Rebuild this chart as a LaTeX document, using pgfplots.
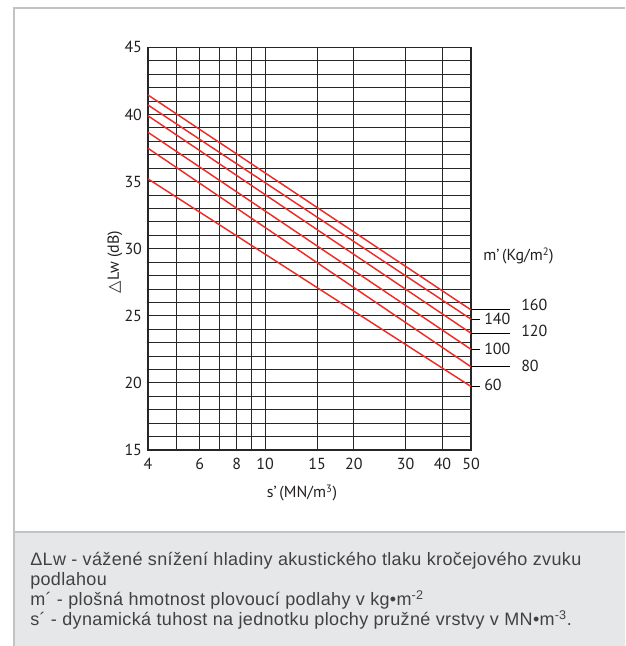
\documentclass[border=0pt]{standalone}
\usepackage{fontspec}
\setmainfont{PT Sans}
\newfontfamily\capfont[LetterSpace=2]{Liberation Sans}
\newfontfamily\symfont{DejaVu Sans}
\usepackage{pgfplots}
\pgfplotsset{compat=1.18}
\definecolor{redline}{RGB}{236,45,40}
\definecolor{txt}{RGB}{35,31,32}
\definecolor{captxt}{RGB}{65,65,65}
\definecolor{capgray}{RGB}{230,231,232}
\definecolor{framec}{RGB}{195,195,195}
\begin{document}
\begin{tikzpicture}[x=0.75pt,y=0.75pt]
\path[use as bounding box] (0,0) rectangle (625,646);
\fill[capgray] (14,0) rectangle (625,114);
\draw[framec, line width=1.1pt] (14,0) -- (14,638) -- (625,638);
\draw[framec, line width=0.9pt] (14,114) -- (625,114);
\begin{axis}[at={(111pt,147pt)}, anchor=south west,
  width=242.25pt, height=302pt, scale only axis,
  xmode=log, xmin=4, xmax=50, ymin=15, ymax=45,
  xtick={4,5,6,7,8,9,10,15,20,30,40,50},
  xticklabels={4,,6,,8,,10,15,20,30,40,50},
  ytick={15,...,45},
  yticklabels={15,,,,,20,,,,,25,,,,,30,,,,,35,,,,,40,,,,,45},
  grid=major, major grid style={black!85, line width=0.6pt},
  axis line style={black!85, line width=0.8pt},
  tick style={draw=none},
  ticklabel style={font=\fontsize{12}{14}\selectfont, text=txt},
  yticklabel style={xshift=-1pt},
  xticklabel style={yshift=-2.5pt},
  clip=false,
]
\addplot[redline, line width=1.1pt] coordinates {(4,41.45) (50,25.44)};
\addplot[redline, line width=1.1pt] coordinates {(4,40.7) (50,24.75)};
\addplot[redline, line width=1.1pt] coordinates {(4,39.9) (50,23.7)};
\addplot[redline, line width=1.1pt] coordinates {(4,38.67) (50,22.5)};
\addplot[redline, line width=1.1pt] coordinates {(4,37.48) (50,21.2)};
\addplot[redline, line width=1.1pt] coordinates {(4,35.2) (50,19.73)};
\draw[black, line width=0.8pt] (axis cs:50,25.44) -- ++(29.25pt,0pt);
\draw[black, line width=0.8pt] (axis cs:50,24.75) -- ++(6.75pt,0pt);
\draw[black, line width=0.8pt] (axis cs:50,23.7) -- ++(29.25pt,0pt);
\draw[black, line width=0.8pt] (axis cs:50,22.5) -- ++(6.75pt,0pt);
\draw[black, line width=0.8pt] (axis cs:50,21.2) -- ++(29.25pt,0pt);
\draw[black, line width=0.8pt] (axis cs:50,19.73) -- ++(6.75pt,0pt);
\begin{scope}[every node/.style={anchor=west, inner sep=0pt, text=txt, font=\fontsize{12}{14}\selectfont}]
\node[xshift=37.5pt, yshift=3.5pt] at (axis cs:50,25.44) {160};
\node[xshift=9.75pt] at (axis cs:50,24.75) {140};
\node[xshift=37.5pt, yshift=2pt] at (axis cs:50,23.7) {120};
\node[xshift=9.75pt, yshift=0.5pt] at (axis cs:50,22.5) {100};
\node[xshift=37.5pt, yshift=1pt] at (axis cs:50,21.2) {80};
\node[xshift=9.75pt, yshift=1.5pt] at (axis cs:50,19.73) {60};
\end{scope}
\end{axis}
\node[anchor=west, inner sep=0pt, text=txt, font=\fontsize{12}{14}\selectfont] at (483,390) {m’\,(Kg/m\textsuperscript{2})};
\node[rotate=90, inner sep=0pt, text=txt, font=\fontsize{12}{14}\selectfont] at (115,384) {{\symfont △}Lw (dB)};
\node[inner sep=0pt, text=txt, font=\fontsize{12}{14}\selectfont] at (302,153) {s’\,(MN/m\textsuperscript{3})};
\begin{scope}[every node/.style={anchor=base west, inner sep=0pt, text=captxt, font=\capfont\fontsize{13.5}{15}\selectfont}]
\node at (30,80) {ΔLw - vážené snížení hladiny akustického tlaku kročejového zvuku};
\node at (30,60) {podlahou};
\node at (30,40) {m´ - plošná hmotnost plovoucí podlahy v kg•m\textsuperscript{-2}};
\node at (30,20) {s´ - dynamická tuhost na jednotku plochy pružné vrstvy v MN•m\textsuperscript{-3}.};
\end{scope}
\end{tikzpicture}
\end{document}
